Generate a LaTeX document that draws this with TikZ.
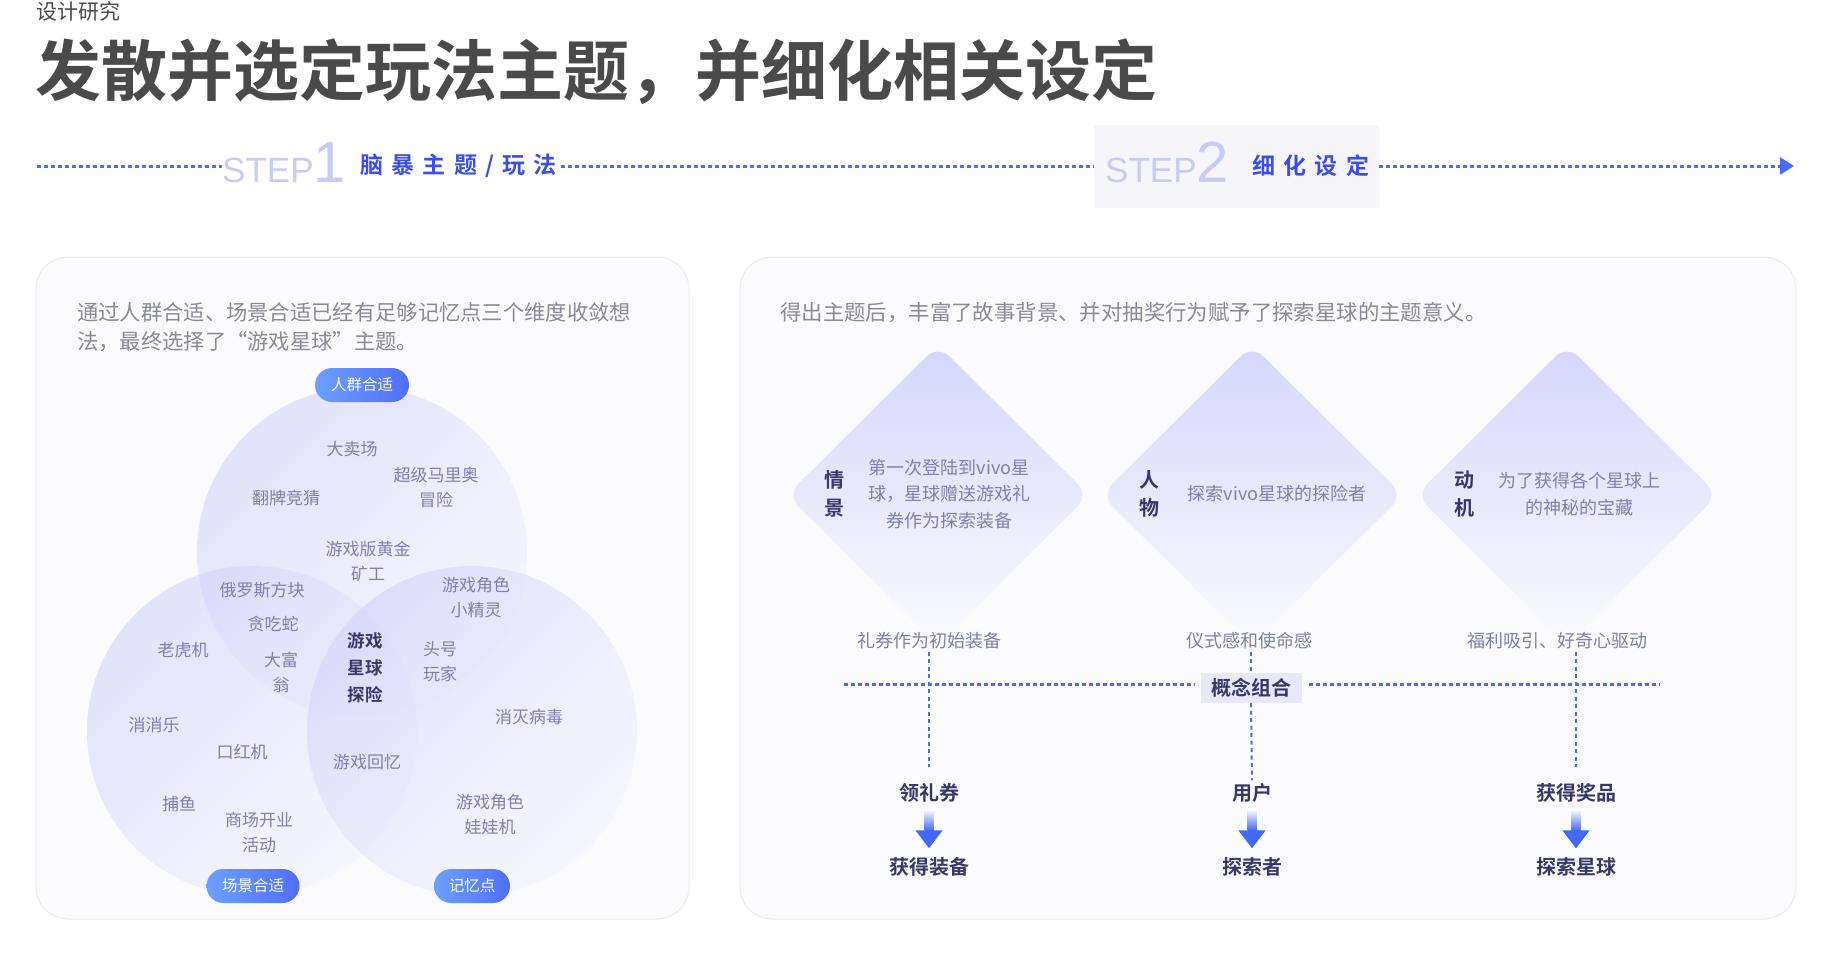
\documentclass[tikz,border=0pt]{standalone}
\usepackage{fontspec}
\setmainfont{Noto Sans CJK SC}[BoldFont={Noto Sans CJK SC Bold}]
\newfontfamily\stepfont{Liberation Sans}
\usetikzlibrary{arrows.meta,shapes.geometric,calc}

\definecolor{dotblue}{RGB}{74,108,247}
\definecolor{stepgray}{RGB}{200,203,246}
\definecolor{stepblue}{RGB}{58,78,240}
\definecolor{titlegray}{RGB}{74,74,74}
\definecolor{bodygray}{RGB}{138,138,148}
\definecolor{labelpurple}{RGB}{128,128,172}
\definecolor{darknavy}{RGB}{56,56,104}
\definecolor{panelfill}{RGB}{251,251,254}
\definecolor{panelline}{RGB}{234,234,250}
\definecolor{circtop}{RGB}{210,210,250}
\definecolor{circbot}{RGB}{244,244,254}
\definecolor{pillleft}{RGB}{108,160,255}
\definecolor{pillright}{RGB}{80,110,248}
\definecolor{boxfill}{RGB}{245,245,250}
\definecolor{tagfill}{RGB}{232,232,248}
\definecolor{dmdtop}{RGB}{214,214,252}
\definecolor{arrowblue}{RGB}{66,104,246}

\newcommand\fsz[2]{\fontsize{#1}{#2}\selectfont}
\newcommand\kk{\kern8.3pt}

\tikzset{
  dotline/.style={dotblue, line width=3pt, dash pattern=on 4pt off 3pt},
  vline/.style={dotblue, line width=2pt, dash pattern=on 4pt off 3.5pt},
  painel/.style={fill=panelfill, draw=panelline, line width=1pt, rounded corners=32pt},
  circulo/.style={top color=circtop, bottom color=circbot, shading angle=45, fill opacity=0.6},
  pilula/.style={rounded corners=17pt, minimum height=34pt, left color=pillleft, right color=pillright, text=white, font=\fsz{15.5}{15.5}, inner sep=0pt},
  rotulo/.style={text=labelpurple, font=\fsz{17}{25}, align=center, inner sep=0pt},
  centro/.style={text=darknavy, font=\fsz{17.5}{27}\bfseries, align=center, inner sep=0pt},
  losango/.style={diamond, minimum width=302pt, minimum height=300pt, inner sep=0pt, rounded corners=16pt, top color=dmdtop, bottom color=panelfill},
  desc/.style={text=labelpurple, font=\fsz{18}{26.5}, align=center, inner sep=0pt},
  chave/.style={text=darknavy, font=\fsz{20}{28}\bfseries, align=center, inner sep=0pt},
  seta/.style={arrowblue, line width=9pt, -{Triangle[length=18pt, width=26pt]}, shorten <=27pt, shorten >=9pt},
}

\begin{document}
\begin{tikzpicture}[x=1pt, y=-1pt]
    \useasboundingbox[fill=white] (0,0) rectangle (1832,956);

    % Cabecalho
    \node[anchor=west, text=titlegray, font=\fsz{21}{21}, inner sep=0pt] (secao) at (36,11) {设计研究};
    \node[anchor=west, text=titlegray, font=\fsz{66}{66}\bfseries, inner sep=0pt] (titulo) at (35,72) {发散并选定玩法主题，并细化相关设定};

    % Linha de etapas
    \coordinate (ini) at (37,166);
    \coordinate (fim) at (1794,166);
    \node[fill=boxfill, minimum width=285pt, minimum height=83pt, inner sep=0pt] (caixa2) at (1236,166) {};
    \node[anchor=base west, text=stepgray, inner sep=0pt] (s1) at (222,182) {\stepfont\fsz{35}{35}STEP\fsz{58}{58}1};
    \node[anchor=west, text=stepblue, font=\fsz{23}{23}\bfseries, inner sep=0pt] (t1) at (360,166) {脑\kk 暴\kk 主\kk 题\kk /\kk 玩\kk 法};
    \node[anchor=base west, text=stepgray, inner sep=0pt] (s2) at (1105,182) {\stepfont\fsz{35}{35}STEP\fsz{58}{58}2};
    \node[anchor=west, text=stepblue, font=\fsz{23}{23}\bfseries, inner sep=0pt] (t2) at (1252,166) {细\kk 化\kk 设\kk 定};
    \draw[dotline] (ini) -- (ini -| s1.west);
    \draw[dotline, shorten <=4pt] (t1.east) -- (t1.east -| caixa2.west);
    \draw[dotline, -{Triangle[length=14pt, width=17pt]}] (caixa2.east) -- (fim);

    % Paineis
    \draw[painel] (36,257) rectangle (689,919);
    \draw[painel] (740,257) rectangle (1796,919);

    \node[anchor=north west, text=bodygray, font=\fsz{21.3}{29}, align=left, inner sep=0pt] (intro1) at (77,302)
        {通过人群合适、场景合适已经有足够记忆点三个维度收敛想\\法，最终选择了“游戏星球”主题。};
    \node[anchor=north west, text=bodygray, font=\fsz{21.4}{29}, inner sep=0pt] (intro2) at (780,302)
        {得出主题后，丰富了故事背景、并对抽奖行为赋予了探索星球的主题意义。};

    % Diagrama de Venn
    \def\R{165pt}
    \coordinate (cA) at (362,552);
    \coordinate (cB) at (252,731);
    \coordinate (cC) at (472,731);
    \shade[circulo] (cA) circle[radius=\R];
    \shade[circulo] (cB) circle[radius=\R];
    \shade[circulo] (cC) circle[radius=\R];

    \node[pilula, minimum width=94pt] (pA) at (362,385) {人群合适};
    \node[pilula, minimum width=93pt] (pB) at (253,886) {场景合适};
    \node[pilula, minimum width=76pt] (pC) at (472,886) {记忆点};

    \node[rotulo] (v1) at (352,449) {大卖场};
    \node[rotulo] (v2) at (436,487) {超级马里奥\\冒险};
    \node[rotulo] (v3) at (286,498) {翻牌竞猜};
    \node[rotulo] (v4) at (368,561) {游戏版黄金\\矿工};
    \node[rotulo] (v5) at (262,590) {俄罗斯方块};
    \node[rotulo] (v6) at (476,598) {游戏角色\\小精灵};
    \node[rotulo] (v7) at (273,624) {贪吃蛇};
    \node[rotulo] (v8) at (183,650) {老虎机};
    \node[rotulo] (v9) at (281,672) {大富\\翁};
    \node[rotulo] (v10) at (440,662) {头号\\玩家};
    \node[rotulo] (v11) at (154,725) {消消乐};
    \node[rotulo] (v12) at (529,717) {消灭病毒};
    \node[rotulo] (v13) at (242,752) {口红机};
    \node[rotulo] (v14) at (367,762) {游戏回忆};
    \node[rotulo] (v15) at (179,804) {捕鱼};
    \node[rotulo] (v16) at (259,832) {商场开业\\活动};
    \node[rotulo] (v17) at (490,815) {游戏角色\\娃娃机};
    \node[centro] (nucleo) at (365,668) {游戏\\星球\\探险};

    % Losangos
    \node[losango] (d1) at (938,495) {};
    \node[losango] (d2) at (1252,495) {};
    \node[losango] (d3) at (1567,495) {};

    \node[chave] (k1) at (834,494) {情\\景};
    \node[chave] (k2) at (1149,494) {人\\物};
    \node[chave] (k3) at (1464,494) {动\\机};
    \node[desc] (e1) at (949,494) {第一次登陆到vivo星\\球，星球赠送游戏礼\\券作为探索装备};
    \node[desc] (e2) at (1277,494) {探索vivo星球的探险者};
    \node[desc] (e3) at (1579,494) {为了获得各个星球上\\的神秘的宝藏};

    \node[desc] (f1) at (929,641) {礼券作为初始装备};
    \node[desc] (f2) at (1249,641) {仪式感和使命感};
    \node[desc] (f3) at (1557,641) {福利吸引、好奇心驱动};

    % Conceito e linhas
    \node[chave, fill=tagfill, minimum width=101pt, minimum height=30pt] (conceito) at (1251,688) {概念组合};
    \coordinate (hl) at (844,684);
    \coordinate (hr) at (1659,684);

    \node[chave] (acao1) at (929,793) {领礼券};
    \node[chave] (acao2) at (1252,793) {用户};
    \node[chave] (acao3) at (1576,793) {获得奖品};
    \node[chave] (res1) at (929,867) {获得装备};
    \node[chave] (res2) at (1252,867) {探索者};
    \node[chave] (res3) at (1576,867) {探索星球};

    \draw[dotline, shorten >=5pt] (hl) -- (hl -| conceito.west);
    \draw[dotline, shorten <=7pt] (hr -| conceito.east) -- (hr);
    \draw[vline, shorten <=2pt, shorten >=16pt] (f1.south -| acao1) -- (acao1.north);
    \draw[vline, shorten <=2pt] (f2.south -| conceito) -- (conceito.north);
    \draw[vline, shorten >=3pt] (conceito.south) -- (acao2.north);
    \draw[vline, shorten <=2pt, shorten >=16pt] (f3.south -| acao3) -- (acao3.north);

    % Setas
    \foreach \a/\b in {acao1/res1, acao2/res2, acao3/res3} {
        \shade[top color=panelfill, bottom color=arrowblue] ($(\a.south)+(-4.5,7)$) rectangle ($(\a.south)+(4.5,28)$);
        \draw[seta] (\a.south) -- (\b.north);
    }

\end{tikzpicture}
\end{document}
